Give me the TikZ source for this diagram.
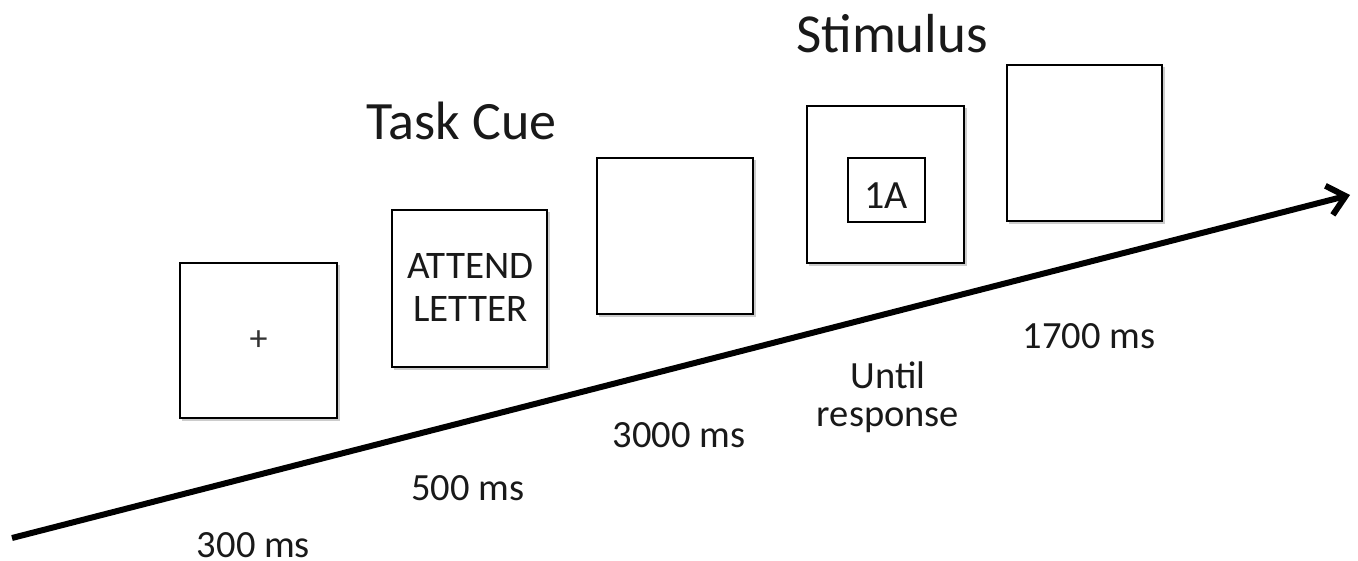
\documentclass[tikz,border=0pt]{standalone}
\usepackage{fontspec}
\setmainfont{Carlito}
\usetikzlibrary{arrows.meta}
\begin{document}
\begin{tikzpicture}[x=1pt,y=-1pt,
  frame/.style={draw=black,line width=2.6pt,fill=white,inner sep=0pt},
  lbl/.style={inner sep=0pt,font=\fontsize{38.5}{40}\selectfont,text=black!90},
  title/.style={inner sep=0pt,font=\fontsize{54}{60}\selectfont,text=black!90}
]
\useasboundingbox (0,0) rectangle (1358,561);
% shadows
\foreach \a/\b/\c/\d in {180/263/337/418, 392/210/547/367, 597/158/753/314, 807/106/964/263, 1007/65/1162/221}{
  \fill[black!20] (\a+2,\b+2) rectangle (\c+3,\d+3);
}
% boxes
\node[frame,minimum width=157pt,minimum height=155pt] (b1) at (258.5,340.5) {};
\node[frame,minimum width=155pt,minimum height=157pt] (b2) at (469.5,288.5) {};
\node[frame,minimum width=156pt,minimum height=156pt] (b3) at (675,236) {};
\node[frame,minimum width=157pt,minimum height=157pt] (b4) at (885.5,184.5) {};
\node[frame,minimum width=155pt,minimum height=156pt] (b5) at (1084.5,143) {};
\node[draw=black,line width=2pt,minimum width=77pt,minimum height=64pt,inner sep=0pt] (b4in) at (886.5,190) {};
% box contents
\node[inner sep=0pt,font=\fontsize{36}{38}\selectfont,text=black!80] (plus) at (b1.center) {+};
\node[lbl,align=center,font=\fontsize{39}{43}\selectfont] (cue) at (470.5,287.5) {ATTEND\\LETTER};
\node[lbl,font=\fontsize{40}{42}\selectfont] (stim) at (886,195.5) {1A};
% titles
\node[title] (tc) at (461.5,120.5) {Task Cue};
\node[title,font=\fontsize{55}{60}\selectfont] (st) at (892,34) {Stimulus};
% time labels
\node[lbl] (t1) at (253.5,545) {300 ms};
\node[lbl] (t2) at (468,488.5) {500 ms};
\node[lbl] (t3) at (679,435) {3000 ms};
\node[lbl,align=center,font=\fontsize{38.5}{38}\selectfont] (t4) at (888,397) {Until\\response};
\node[lbl] (t5) at (1089,336.5) {1700 ms};
% time arrow
\coordinate (s) at (12,538);
\coordinate (e) at (1350,195);
\draw[line width=6pt,-{Straight Barb[length=17pt,width=30pt]}] (s) -- (e);
\end{tikzpicture}
\end{document}
